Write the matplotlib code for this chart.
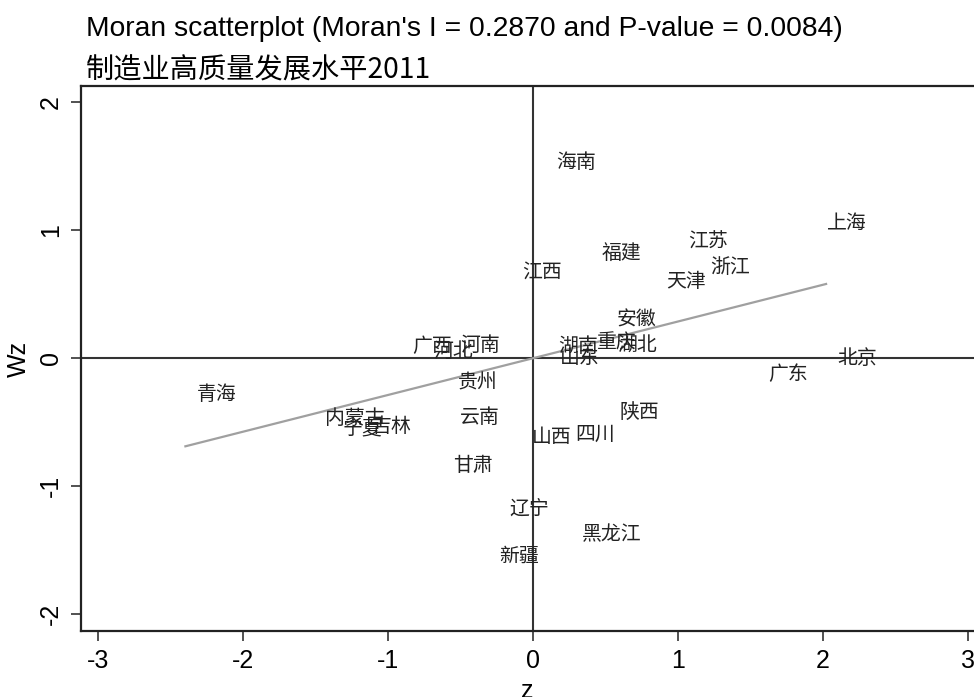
import numpy as np
import matplotlib
matplotlib.use("Agg")
from matplotlib import pyplot as plt

plt.rcParams['font.family'] = ['Liberation Sans', 'Noto Sans CJK SC', 'DejaVu Sans']
plt.rcParams['axes.unicode_minus'] = False

# 省份、标准化值 z 及其空间滞后 Wz
provinces = ["海南", "上海", "江苏", "福建", "浙江", "江西", "天津", "安徽",
             "广西", "河南", "河北", "湖南", "重庆", "湖北", "山东", "北京",
             "广东", "贵州", "青海", "陕西", "云南", "内蒙古", "宁夏", "吉林",
             "山西", "四川", "甘肃", "辽宁", "黑龙江", "新疆"]
z = [0.083, 1.955, 0.998, 0.400, 1.149, -0.151, 0.840, 0.500,
     -0.908, -0.578, -0.764, 0.096, 0.365, 0.509, 0.110, 2.023,
     1.549, -0.592, -2.395, 0.523, -0.578, -1.507, -1.390, -1.184,
     -0.083, 0.220, -0.626, -0.234, 0.260, -0.310]
wz = [1.53, 1.05, 0.91, 0.82, 0.71, 0.67, 0.60, 0.30,
      0.09, 0.10, 0.05, 0.09, 0.12, 0.10, 0.00, 0.00,
      -0.13, -0.19, -0.28, -0.42, -0.46, -0.47, -0.56, -0.53,
      -0.62, -0.59, -0.84, -1.19, -1.38, -1.55]
moran_i = 0.2870
p_value = 0.0084
subtitle = "制造业高质量发展水平2011"

fig = plt.figure(figsize=(9.74, 6.97), dpi=100)
ax = fig.add_axes([81 / 974, 1 - 631 / 697, 1 - 81 / 974, (631 - 86) / 697])

dark = "#333333"
ax.axvline(0, color=dark, lw=1.5, zorder=1)
ax.axhline(0, color=dark, lw=1.5, zorder=1)

xs = np.array([min(z), max(z)])
ax.plot(xs, moran_i * xs, color="#a0a0a0", lw=1.6, zorder=2)

for name, x, y in zip(provinces, z, wz):
    ax.annotate(name, (x, y), xytext=(8, 0), textcoords="offset points",
                ha="left", va="center", fontsize=14.3, color="#222222",
                family=["Noto Sans CJK SC", "DejaVu Sans"])

ax.set_xlim(-3.115, 3.043)
ax.set_ylim(-2.13, 2.127)
ax.set_xticks([-3, -2, -1, 0, 1, 2, 3])
ax.set_yticks([-2, -1, 0, 1, 2])
ax.tick_params(direction="out", length=7, width=1.2, color=dark, labelsize=18, pad=6)
for lab in ax.get_yticklabels():
    lab.set_rotation(90)
    lab.set_va("center")
for side in ["left", "bottom", "top"]:
    ax.spines[side].set_linewidth(1.6)
    ax.spines[side].set_color("#222222")
ax.spines["right"].set_visible(False)

ax.set_xlabel("z", fontsize=18, labelpad=4)
ax.set_ylabel("Wz", fontsize=18, labelpad=6)

fig.text(86 / 974, 1 - 29 / 697,
         "Moran scatterplot (Moran's I = %.4f and P-value = %.4f)" % (moran_i, p_value),
         fontsize=20.3, va="center", ha="left")
fig.text(86 / 974, 1 - 70 / 697, subtitle, fontsize=20.3, va="center", ha="left",
         family=["Noto Sans CJK SC", "DejaVu Sans"])

fig.savefig("out.png", dpi=100)
